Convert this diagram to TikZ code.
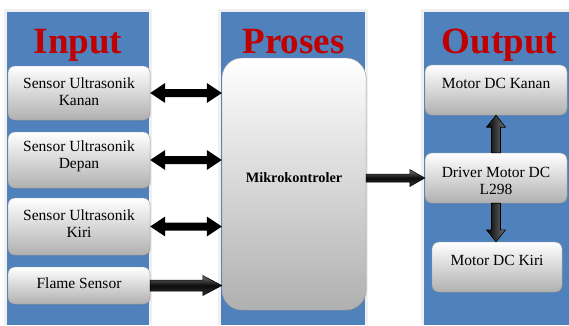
\documentclass[tikz,border=0pt]{standalone}
\usepackage{fontspec}
\setmainfont{Liberation Serif}
\usetikzlibrary{calc,shadows}
\definecolor{panelblue}{HTML}{4F81BD}
\definecolor{titlered}{HTML}{C00000}
\definecolor{halo}{HTML}{F0F0F0}
\tikzset{
  panel/.style={fill=panelblue},
  halobox/.style={fill=halo},
  title/.style={text=titlered, font=\fontsize{37}{37}\selectfont\bfseries, anchor=base, inner sep=0pt},
  box/.style={draw=gray!75, rounded corners=7pt, top color=white, bottom color=gray!62,
    minimum width=142pt, inner sep=0pt,
    drop shadow={shadow xshift=0.8pt, shadow yshift=-1.2pt, opacity=0.25}},
  mkbox/.style={box, rounded corners=20pt, minimum width=144pt, minimum height=252pt},
  txt/.style={font=\fontsize{15.5}{17}\selectfont, align=center, inner sep=0pt},
  mktxt/.style={font=\fontsize{14.3}{16}\selectfont\bfseries, inner sep=0pt},
  sarrow/.style n args={3}{to path={
    ($(\tikztostart)!#1!90:(\tikztotarget)$) --
    ($(\tikztotarget)!#3!(\tikztostart)!#1!-90:(\tikztostart)$) --
    ($(\tikztotarget)!#3!(\tikztostart)!#2!-90:(\tikztostart)$) --
    (\tikztotarget) --
    ($(\tikztotarget)!#3!(\tikztostart)!#2!90:(\tikztostart)$) --
    ($(\tikztotarget)!#3!(\tikztostart)!#1!90:(\tikztostart)$) --
    ($(\tikztostart)!#1!-90:(\tikztotarget)$) -- cycle}},
  darrow/.style n args={3}{to path={
    (\tikztostart) --
    ($(\tikztostart)!#3!(\tikztotarget)!#2!90:(\tikztotarget)$) --
    ($(\tikztostart)!#3!(\tikztotarget)!#1!90:(\tikztotarget)$) --
    ($(\tikztotarget)!#3!(\tikztostart)!#1!-90:(\tikztostart)$) --
    ($(\tikztotarget)!#3!(\tikztostart)!#2!-90:(\tikztostart)$) --
    (\tikztotarget) --
    ($(\tikztotarget)!#3!(\tikztostart)!#2!90:(\tikztostart)$) --
    ($(\tikztotarget)!#3!(\tikztostart)!#1!90:(\tikztostart)$) --
    ($(\tikztostart)!#3!(\tikztotarget)!#1!-90:(\tikztotarget)$) --
    ($(\tikztostart)!#3!(\tikztotarget)!#2!-90:(\tikztotarget)$) -- cycle}},
  blackdbl/.style={fill=black, darrow={4pt}{10pt}{15pt}},
  hblock/.style={draw=black, line width=0.5pt, top color=black!55, bottom color=black!80, middle color=black!95},
  vblock/.style={draw=black, line width=0.6pt, left color=black, right color=black!55},
}
\begin{document}
\begin{tikzpicture}[x=1pt,y=-1pt]
  \useasboundingbox (0,0) rectangle (569,325);
  \fill[white] (0,0) rectangle (569,325);
  % panels
  \fill[halobox] (4,9) rectangle (152,325);
  \fill[halobox] (218,9) rectangle (368,325);
  \fill[halobox] (421,9) rectangle (569,325);
  \fill[panel] (7,12) rectangle (149,325);
  \fill[panel] (221,12) rectangle (365,325);
  \fill[panel] (424,12) rectangle (569,325);
  % titles
  \node[title] (tin) at (78,53) {Input};
  \node[title] (tpr) at (293.5,53) {Proses};
  \node[title] (tout) at (499.5,53) {Output};
  % input boxes
  \node[box, minimum height=54pt] (s1) at (79,93) {};
  \node[box, minimum height=56pt] (s2) at (79,160) {};
  \node[box, minimum height=57pt] (s3) at (79,226.5) {};
  \node[box, minimum height=37pt] (s4) at (79,285.5) {};
  \node[txt] (t1) at ($(s1.center)+(0,-1.5)$) {Sensor Ultrasonik\\Kanan};
  \node[txt] (t2) at ($(s2.center)+(0,-3.5)$) {Sensor Ultrasonik\\Depan};
  \node[txt] (t3) at ($(s3.center)+(0,-3)$) {Sensor Ultrasonik\\Kiri};
  \node[txt] (t4) at ($(s4.center)+(0,-2.5)$) {Flame Sensor};
  % microcontroller
  \node[mkbox] (mk) at (294,184) {};
  \node[mktxt] (tmk) at ($(mk.center)+(0,-6)$) {Mikrokontroler};
  % output boxes
  \node[box, minimum height=50pt] (mka) at (496,90) {};
  \node[box, minimum height=50pt] (dr) at (496,178) {};
  \node[box, minimum width=130pt, minimum height=50pt] (mki) at (497,267) {};
  \node[txt] (tka) at ($(mka.center)+(0,-7)$) {Motor DC Kanan};
  \node[txt] (tdr) at ($(dr.center)+(0,3)$) {Driver Motor DC\\L298};
  \node[txt] (tki) at ($(mki.center)+(0,-7)$) {Motor DC Kiri};
  % connector endpoints
  \coordinate (m1) at (mk.west |- s1.east);
  \coordinate (m2) at (mk.west |- s2.east);
  \coordinate (m3) at (mk.west |- s3.east);
  \coordinate (m4) at (mk.west |- s4.east);
  \coordinate (mo) at (mk.east |- dr.west);
  \coordinate (kiN) at (mki.north -| dr.south);
  % connectors
  \path[blackdbl] (s1.east) to (m1);
  \path[blackdbl] (s2.east) to (m2);
  \path[blackdbl] (s3.east) to (m3);
  \path[hblock, sarrow={5.5pt}{10pt}{19pt}] (s4.east) to (m4);
  \path[hblock, sarrow={4pt}{8.5pt}{15pt}] (mo) to (dr.west);
  \path[vblock, sarrow={4.5pt}{9.5pt}{12pt}] (dr.north) to (mka.south);
  \path[vblock, sarrow={4.5pt}{9.5pt}{12pt}] (dr.south) to (kiN);
\end{tikzpicture}
\end{document}
